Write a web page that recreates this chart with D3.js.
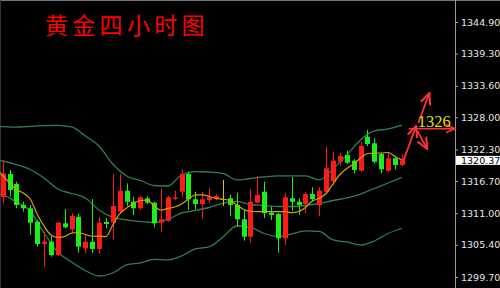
<!DOCTYPE html>
<html>
<head>
<meta charset="utf-8">
<script src="https://cdn.jsdelivr.net/npm/d3@7"></script>
<style>
  html, body { margin: 0; padding: 0; background: #000; }
  svg { display: block; }
</style>
</head>
<body>
<svg id="chart" width="500" height="288"></svg>
<script>
// gold 4h candles (oldest -> newest)
var opens  = [1313.88,1317.96,1316.19,1312.47,1311.88,1309.51,1305.55,1305.96,1303.60,1309.22,
              1308.16,1310.39,1304.79,1305.96,1304.67,1309.45,1309.33,1311.28,1315.00,1313.05,
              1311.88,1313.65,1312.87,1309.33,1309.68,1313.58,1314.82,1317.96,1313.48,1312.64,
              1313.35,1313.58,1313.53,1313.65,1312.47,1309.93,1306.85,1312.87,1314.82,1311.10,
              1310.87,1306.56,1313.65,1313.05,1312.64,1314.41,1312.47,1314.82,1316.60,1320.14,
              1321.33,1320.32,1318.54,1324.57,1323.40,1321.50,1318.54,1320.74,1319.56];
var highs  = [1320.32,1318.67,1316.60,1313.05,1312.47,1309.81,1307.73,1307.15,1309.51,1311.76,
              1311.00,1310.87,1307.15,1313.53,1310.34,1310.16,1317.96,1317.96,1316.31,1313.94,
              1314.06,1314.06,1313.05,1315.39,1314.06,1315.00,1318.79,1318.37,1314.82,1314.82,
              1315.43,1314.41,1316.90,1314.24,1314.65,1311.58,1315.25,1317.61,1316.60,1312.16,
              1311.10,1314.65,1317.43,1313.65,1314.82,1315.60,1315.60,1322.80,1321.91,1321.73,
              1322.09,1320.57,1323.68,1325.76,1324.29,1321.73,1321.73,1321.03,1321.50];
var lows   = [1312.77,1313.94,1311.88,1311.28,1307.15,1305.07,1301.53,1303.30,1303.43,1308.34,
              1307.45,1304.01,1303.90,1303.96,1303.78,1308.34,1306.39,1311.00,1312.29,1310.69,
              1311.58,1312.64,1308.51,1307.73,1309.51,1313.35,1313.94,1311.58,1311.70,1310.11,
              1312.77,1313.35,1312.29,1310.52,1308.62,1306.14,1305.78,1312.77,1310.11,1309.81,
              1304.01,1305.38,1311.40,1310.69,1311.00,1313.05,1310.52,1314.54,1316.01,1319.38,
              1319.73,1318.08,1318.37,1322.92,1319.86,1318.08,1318.37,1318.79,1319.38];
var closes = [1318.05,1315.12,1312.47,1311.88,1309.33,1305.55,1305.96,1303.60,1309.33,1308.51,
              1310.52,1305.07,1305.96,1304.67,1309.33,1309.10,1312.29,1315.00,1313.05,1311.88,
              1313.83,1312.87,1309.22,1309.93,1313.83,1313.83,1317.96,1313.48,1312.64,1313.48,
              1313.83,1314.06,1313.53,1312.47,1309.93,1306.85,1313.05,1314.24,1311.00,1310.69,
              1306.56,1313.83,1313.03,1312.47,1314.41,1313.48,1315.00,1318.97,1320.32,1321.15,
              1319.96,1318.67,1322.92,1323.28,1320.14,1318.79,1320.74,1319.56,1320.37];

// bollinger bands, read at every other bar
var bandIdx = [0,1,3,5,7,9,11,13,15,17,19,21,23,25,27,29,31,33,35,37,39,41,43,45,47,49,51,53,55,57,59];
var upper  = [1326.38,1326.34,1326.25,1326.41,1326.52,1326.56,1326.29,1324.70,1322.92,1319.73,1317.61,
              1316.81,1315.92,1315.83,1317.78,1318.37,1318.31,1318.08,1316.90,1317.16,1317.43,
              1317.61,1317.61,1317.61,1316.90,1318.85,1321.33,1323.99,1325.58,1325.94,1326.64];
var middle = [1320.44,1320.26,1319.64,1318.76,1317.25,1315.30,1314.50,1313.71,1311.58,1310.25,1309.81,
              1309.50,1309.36,1309.90,1311.05,1311.49,1312.02,1312.73,1313.09,1312.55,1312.38,
              1312.20,1312.20,1312.38,1312.73,1313.26,1313.71,1314.41,1315.39,1316.36,1317.37];
var lower  = [1314.41,1314.24,1313.00,1311.40,1307.50,1304.13,1302.36,1300.86,1299.88,1300.41,1301.83,
              1302.19,1302.81,1302.72,1303.43,1304.67,1305.02,1306.79,1308.74,1308.48,1307.41,
              1306.88,1307.33,1307.86,1307.77,1306.26,1305.91,1305.38,1306.08,1307.41,1308.34];

// short moving average (yellow), one value per bar starting at bar 0
var ma = [1318.85,1317.69,1316.36,1315.21,1314.59,1313.53,1310.87,1308.74,1307.15,1306.74,
          1306.85,1307.50,1307.56,1307.24,1306.92,1306.94,1306.85,1308.92,1310.87,1311.93,
          1312.73,1313.26,1313.35,1312.29,1311.58,1311.85,1312.11,1312.64,1313.53,1314.24,
          1314.24,1313.97,1313.65,1313.48,1313.26,1312.47,1311.67,1311.35,1311.28,1311.28,
          1311.28,1311.28,1311.31,1311.10,1311.31,1312.02,1313.17,1313.65,1314.50,1316.19,
          1317.87,1318.93,1319.73,1320.80,1321.59,1321.68,1321.68,1321.77,1321.06,1320.44];

var priceTicks = [1344.90,1339.30,1333.60,1328.00,1322.30,1316.70,1311.00,1305.40,1299.70];
var lastPrice = 1320.37;
var target = 1326;
var title = "黄金四小时图";
// forecast arrows in [bar, price] pairs
var arrows = [
  [[59.2,1320.2],[61.1,1326.5]],
  [[61.4,1327.0],[63.0,1332.3]],
  [[61.25,1325.6],[62.7,1322.4]]
];

var svg = d3.select("#chart"),
    width = +svg.attr("width"),
    height = +svg.attr("height"),
    axisX = 455;

var x = d3.scaleLinear().domain([1, 59]).range([2.7, 401.8]);
var y = d3.scaleLinear().domain([1299.7, 1344.9]).range([277, 22]);

svg.append("rect").attr("width", width).attr("height", height).attr("fill", "#000");

var defs = svg.append("defs");
defs.append("clipPath").attr("id", "plot")
  .append("rect").attr("x", 0).attr("y", 0).attr("width", axisX).attr("height", height);
defs.append("marker").attr("id", "head")
    .attr("viewBox", "0 0 10 10").attr("refX", 9).attr("refY", 5)
    .attr("markerWidth", 7).attr("markerHeight", 7).attr("orient", "auto")
  .append("path").attr("d", "M0,1 L9,5 L0,9").attr("fill", "none")
    .attr("stroke", "#ff3333").attr("stroke-width", 1.6);

// frame
svg.append("line").attr("x1", 0).attr("x2", width).attr("y1", 0.5).attr("y2", 0.5).attr("stroke", "#777");
svg.append("line").attr("x1", 0.5).attr("x2", 0.5).attr("y1", 0).attr("y2", height).attr("stroke", "#333");
svg.append("line").attr("x1", axisX + 0.5).attr("x2", axisX + 0.5).attr("y1", 0).attr("y2", height).attr("stroke", "#9a9a9a");

var g = svg.append("g").attr("clip-path", "url(#plot)");

var bandLine = d3.line()
  .x(function(d) { return x(d[0]); })
  .y(function(d) { return y(d[1]); })
  .curve(d3.curveMonotoneX);

[upper, middle, lower].forEach(function(vals) {
  g.append("path")
    .datum(bandIdx.map(function(i, k) { return [i, vals[k]]; }))
    .attr("d", bandLine)
    .attr("fill", "none")
    .attr("stroke", "#2e8050")
    .attr("stroke-width", 1.3);
});

var bars = opens.map(function(o, i) {
  return { i: i + 1, o: o, h: highs[i], l: lows[i], c: closes[i] };
});
function barColor(d) {
  if (d.c > d.o) return "#ff1a1a";
  if (d.c < d.o) return "#19f019";
  return "#e0c400";
}
var bw = 5;

g.selectAll(".wick")
  .data(bars)
  .enter().append("line")
    .attr("class", "wick")
    .attr("x1", function(d) { return Math.round(x(d.i)) + 0.5; })
    .attr("x2", function(d) { return Math.round(x(d.i)) + 0.5; })
    .attr("y1", function(d) { return y(d.h); })
    .attr("y2", function(d) { return y(d.l); })
    .attr("stroke", barColor)
    .attr("stroke-width", 1);

g.selectAll(".bar")
  .data(bars)
  .enter().append("rect")
    .attr("class", "bar")
    .attr("x", function(d) { return Math.round(x(d.i)) + 0.5 - bw / 2; })
    .attr("y", function(d) { return y(Math.max(d.o, d.c)); })
    .attr("width", bw)
    .attr("height", function(d) { return Math.max(1, y(Math.min(d.o, d.c)) - y(Math.max(d.o, d.c))); })
    .attr("fill", barColor);

g.append("path")
  .datum(ma.map(function(v, i) { return [i, v]; }))
  .attr("d", bandLine)
  .attr("fill", "none")
  .attr("stroke", "#d9a200")
  .attr("stroke-width", 1.2);

// price axis on the right
var axis = svg.append("g")
  .attr("transform", "translate(" + (axisX + 1) + ",0)")
  .call(d3.axisRight(y).tickValues(priceTicks).tickSize(2).tickPadding(3)
        .tickFormat(function(d) { return d.toFixed(2); }));
axis.select(".domain").remove();
axis.selectAll(".tick line").attr("stroke", "#aaa");
axis.selectAll("text")
  .attr("fill", "#e8e8e8")
  .style("font-family", "DejaVu Sans, sans-serif")
  .style("font-size", "9.5px");

// current price tag
svg.append("rect")
  .attr("x", axisX + 1).attr("y", y(lastPrice) - 4.5)
  .attr("width", width - axisX).attr("height", 9)
  .attr("fill", "#fff");
svg.append("text")
  .attr("x", axisX + 6).attr("y", y(lastPrice) + 3.5)
  .attr("fill", "#000")
  .style("font-family", "DejaVu Sans, sans-serif")
  .style("font-size", "9.5px")
  .text(lastPrice.toFixed(2));

// target level and arrows
svg.append("line")
  .attr("x1", x(60)).attr("x2", axisX)
  .attr("y1", y(target)).attr("y2", y(target))
  .attr("stroke", "#ff3333").attr("stroke-width", 1.5)
  .attr("marker-end", "url(#head)");
svg.selectAll(".arrow")
  .data(arrows)
  .enter().append("line")
    .attr("class", "arrow")
    .attr("x1", function(d) { return x(d[0][0]); })
    .attr("y1", function(d) { return y(d[0][1]); })
    .attr("x2", function(d) { return x(d[1][0]); })
    .attr("y2", function(d) { return y(d[1][1]); })
    .attr("stroke", "#ff3333").attr("stroke-width", 1.8)
    .attr("marker-end", "url(#head)");
svg.append("text")
  .attr("x", x(61.3)).attr("y", y(target) - 2)
  .attr("fill", "#e4df00")
  .style("font-family", "Liberation Serif, serif")
  .style("font-size", "16.5px")
  .text(target);

svg.append("text")
  .attr("x", 45).attr("y", 34)
  .attr("fill", "#f00")
  .style("font-family", "Noto Sans CJK SC, sans-serif")
  .style("font-size", "23px")
  .style("letter-spacing", "4.3px")
  .text(title);
</script>
</body>
</html>
